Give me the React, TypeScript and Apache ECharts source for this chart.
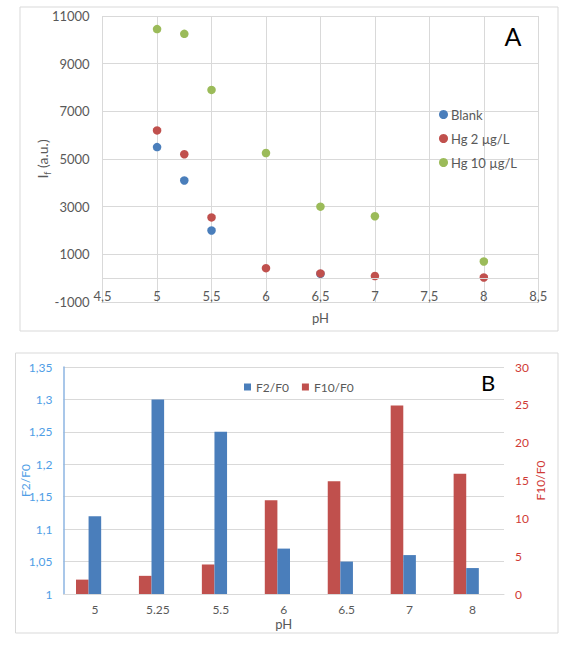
import React, { useEffect, useRef } from "react";
import * as echarts from "echarts";

// Panel A: fluorescence intensity vs pH
const phA = [5, 5.25, 5.5, 6, 6.5, 7, 8];
const blankPh = [5, 5.25, 5.5, 6.5];
const blankIf = [5500, 4100, 2000, 180];
const hg2If = [6200, 5200, 2550, 420, 200, 90, 30];
const hg10If = [10450, 10250, 7900, 5250, 3000, 2600, 700];

// Panel B: ratios per pH
const phB = ["5", "5.25", "5.5", "6", "6.5", "7", "8"];
const f2f0 = [1.12, 1.3, 1.25, 1.07, 1.05, 1.06, 1.04];
const f10f0 = [1.9, 2.4, 3.9, 12.4, 14.9, 24.9, 15.9];

const FONT = "Lato, 'Open Sans', sans-serif";
const TXT = "#595959";
const GRID = "#d9d9d9";
const BLUE = "#4a7ebb";
const RED = "#c0504d";
const GREEN = "#9bbb59";
const BLUE_LBL = "#4f9ee6";
const RED_LBL = "#d03a36";

const comma = (v: number) => String(+v.toFixed(2)).replace(".", ",");

export default function App() {
  const ref = useRef<HTMLDivElement>(null);

  useEffect(() => {
    if (!ref.current) return;
    const chart = echarts.init(ref.current, null, { renderer: "svg" });

    const pts = (xs: number[], ys: number[]) => xs.map((x, i) => [x, ys[i]]);

    chart.setOption({
      animation: false,
      backgroundColor: "#ffffff",
      textStyle: { fontFamily: FONT, color: TXT },
      graphic: [
        { type: "rect", shape: { x: 20, y: 7, width: 538, height: 324 }, style: { fill: "none", stroke: GRID, lineWidth: 1 } },
        { type: "rect", shape: { x: 15.5, y: 353, width: 542.5, height: 280 }, style: { fill: "none", stroke: GRID, lineWidth: 1 } },
        { type: "text", x: 513, y: 36, style: { text: "A", font: `25px ${FONT}`, fill: "#000", align: "center", verticalAlign: "middle" } },
        { type: "text", x: 488, y: 382, style: { text: "B", font: `22px ${FONT}`, fill: "#000", align: "center", verticalAlign: "middle" } },
      ],
      legend: [
        {
          orient: "vertical",
          left: 434,
          top: 103,
          itemGap: 11,
          itemWidth: 9,
          itemHeight: 9,
          icon: "circle",
          textStyle: { fontFamily: FONT, fontSize: 13, color: TXT, padding: [0, 0, 0, -2] },
          data: ["Blank", "Hg 2 µg/L", "Hg 10 µg/L"],
        },
        {
          orient: "horizontal",
          left: 239,
          top: 376,
          itemGap: 13,
          itemWidth: 7,
          itemHeight: 7,
          icon: "rect",
          textStyle: { fontFamily: FONT, fontSize: 12, color: TXT },
          data: ["F2/F0", "F10/F0"],
        },
      ],
      grid: [
        { left: 102.6, top: 16, width: 435.7, height: 286 },
        { left: 63.4, top: 367, width: 440.6, height: 227 },
      ],
      xAxis: [
        {
          gridIndex: 0,
          type: "value",
          min: 4.5,
          max: 8.5,
          interval: 0.5,
          name: "pH",
          nameLocation: "middle",
          nameGap: 9,
          nameMoveOverlap: false,
          nameTextStyle: { fontFamily: FONT, fontSize: 13, color: TXT },
          axisLine: { show: false, onZero: false },
          axisTick: { show: false },
          // tick labels sit just under the zero line
          axisLabel: { margin: -13, fontFamily: FONT, fontSize: 13, color: TXT, formatter: comma },
          splitLine: { show: true, lineStyle: { color: GRID } },
        },
        {
          gridIndex: 1,
          type: "category",
          data: phB,
          name: "pH",
          nameLocation: "middle",
          nameGap: 23,
          nameMoveOverlap: false,
          nameTextStyle: { fontFamily: FONT, fontSize: 13, color: TXT },
          axisLine: { show: true, lineStyle: { color: GRID } },
          axisTick: { show: false },
          axisLabel: { margin: 9, fontFamily: FONT, fontSize: 12, color: TXT },
        },
      ],
      yAxis: [
        {
          gridIndex: 0,
          type: "value",
          min: -1000,
          max: 11000,
          interval: 2000,
          name: "{a|I}{b|f}{a| (a.u.)}",
          nameLocation: "middle",
          nameRotate: 90,
          nameGap: 51,
          nameMoveOverlap: false,
          nameTextStyle: {
            rich: {
              a: { fontFamily: FONT, fontSize: 14, color: TXT, lineHeight: 18 },
              b: { fontFamily: FONT, fontSize: 9, color: TXT, lineHeight: 9, verticalAlign: "bottom" },
            },
          },
          axisLine: { show: false },
          axisTick: { show: false },
          axisLabel: { margin: 13, fontFamily: FONT, fontSize: 13, color: TXT, formatter: (v: number) => String(v) },
          splitLine: { show: true, lineStyle: { color: GRID } },
        },
        {
          gridIndex: 1,
          type: "value",
          min: 1,
          max: 1.35,
          interval: 0.05,
          name: "F2/F0",
          nameLocation: "middle",
          nameRotate: 90,
          nameGap: 32,
          nameMoveOverlap: false,
          nameTextStyle: { fontFamily: FONT, fontSize: 12, color: BLUE_LBL },
          axisLine: { show: true, lineStyle: { color: "#8db4e2", width: 1.5 } },
          axisTick: { show: false },
          axisLabel: { margin: 11, fontFamily: FONT, fontSize: 12, color: BLUE_LBL, formatter: comma },
          splitLine: { show: true, lineStyle: { color: GRID } },
        },
        {
          gridIndex: 1,
          type: "value",
          position: "right",
          min: 0,
          max: 30,
          interval: 5,
          name: "F10/F0",
          nameLocation: "middle",
          nameRotate: 90,
          nameGap: 30,
          nameMoveOverlap: false,
          nameTextStyle: { fontFamily: FONT, fontSize: 12, color: RED_LBL },
          axisLine: { show: false },
          axisTick: { show: false },
          axisLabel: { margin: 11, fontFamily: FONT, fontSize: 12, color: RED_LBL },
          splitLine: { show: false },
        },
      ],
      series: [
        {
          name: "Blank",
          type: "scatter",
          xAxisIndex: 0,
          yAxisIndex: 0,
          symbolSize: 8.5,
          itemStyle: { color: BLUE, opacity: 1 },
          data: pts(blankPh, blankIf),
          // horizontal zero line of the intensity axis
          markLine: {
            silent: true,
            symbol: "none",
            label: { show: false },
            lineStyle: { color: GRID, type: "solid", width: 1 },
            data: [{ yAxis: 0 }],
          },
        },
        {
          name: "Hg 2 µg/L",
          type: "scatter",
          xAxisIndex: 0,
          yAxisIndex: 0,
          symbolSize: 8.5,
          itemStyle: { color: RED, opacity: 1 },
          data: pts(phA, hg2If),
        },
        {
          name: "Hg 10 µg/L",
          type: "scatter",
          xAxisIndex: 0,
          yAxisIndex: 0,
          symbolSize: 8.5,
          itemStyle: { color: GREEN, opacity: 1 },
          data: pts(phA, hg10If),
        },
        {
          name: "F10/F0",
          type: "bar",
          xAxisIndex: 1,
          yAxisIndex: 2,
          barWidth: 12.6,
          barGap: "0%",
          itemStyle: { color: RED },
          data: f10f0,
        },
        {
          name: "F2/F0",
          type: "bar",
          xAxisIndex: 1,
          yAxisIndex: 1,
          barWidth: 12.6,
          barGap: "0%",
          itemStyle: { color: BLUE },
          data: f2f0,
        },
        {
          // empty third slot in each cluster
          name: "spacer",
          type: "bar",
          xAxisIndex: 1,
          yAxisIndex: 1,
          barWidth: 12.6,
          barGap: "0%",
          silent: true,
          data: phB.map(() => null),
        },
      ],
    });

    return () => chart.dispose();
  }, []);

  return (
    <div
      ref={ref}
      style={{ position: "absolute", left: 0, top: 0, width: 564, height: 648 }}
    />
  );
}
